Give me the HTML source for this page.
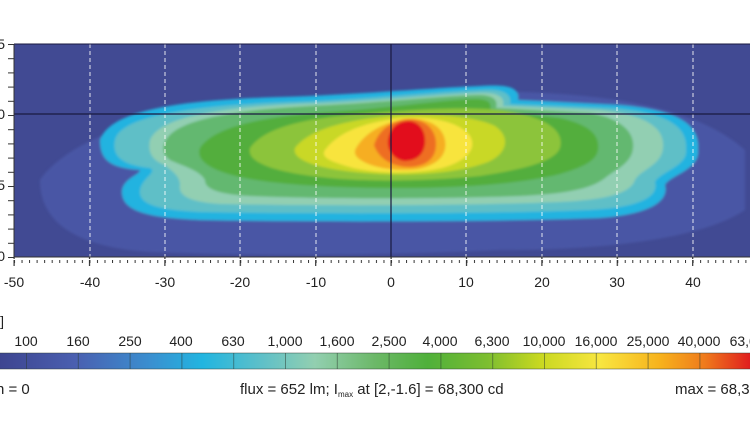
<!DOCTYPE html>
<html><head><style>
body{margin:0;background:#fff;width:750px;height:430px;overflow:hidden;font-family:"Liberation Sans",sans-serif}
</style></head><body>
<svg width="750" height="430" xmlns="http://www.w3.org/2000/svg" font-family="Liberation Sans, sans-serif">
<defs>
<filter id="b"><feGaussianBlur stdDeviation="1.2"/></filter>
<linearGradient id="cb" x1="0" x2="1">
<stop offset="0" stop-color="#3d4590"/>
<stop offset="0.1" stop-color="#4a5fb0"/>
<stop offset="0.2" stop-color="#3a8fd0"/>
<stop offset="0.27" stop-color="#22b5e0"/>
<stop offset="0.35" stop-color="#5fc0c8"/>
<stop offset="0.42" stop-color="#92cfb0"/>
<stop offset="0.5" stop-color="#6cb868"/>
<stop offset="0.57" stop-color="#4fb03a"/>
<stop offset="0.65" stop-color="#7dbe30"/>
<stop offset="0.72" stop-color="#c8d820"/>
<stop offset="0.8" stop-color="#f8e640"/>
<stop offset="0.88" stop-color="#f7b21c"/>
<stop offset="0.94" stop-color="#ef7a1c"/>
<stop offset="1" stop-color="#e01e1e"/>
</linearGradient>
<pattern id="xt" x="14" y="0" width="7.54" height="10" patternUnits="userSpaceOnUse">
<rect x="0" y="0" width="1" height="6" fill="#333"/>
</pattern>
<pattern id="xT" x="13.5" y="0" width="75.4" height="10" patternUnits="userSpaceOnUse">
<rect x="0" y="0" width="1.2" height="9" fill="#333"/>
</pattern>
<pattern id="yt" x="0" y="44" width="10" height="14.2" patternUnits="userSpaceOnUse">
<rect x="0" y="0" width="10" height="1" fill="#333"/>
</pattern>
<pattern id="cl" x="26" y="0" width="51.8" height="20" patternUnits="userSpaceOnUse">
<rect x="0" y="0" width="1" height="20" fill="#2a3a30" opacity="0.5"/>
</pattern>
<clipPath id="pc"><rect x="14" y="44" width="740" height="213"/></clipPath>
</defs>
<rect x="14" y="44" width="740" height="213" fill="#414a93"/>
<g clip-path="url(#pc)" filter="url(#b)">
<path d="M40 180 C60 150 120 120 200 110 C300 95 420 92 520 92 C620 95 700 110 745 150 L745 210 C700 240 600 250 500 250 C380 256 250 256 150 252 C90 248 40 230 40 180Z" fill="#4956a5"/>
<path d="M100 140 C110 110 180 100 280 97 C350 95 430 88 480 86 C510 84 520 88 518 100 L620 105 C680 110 700 125 698 150 C700 170 670 175 665 185 C670 205 640 215 600 218 C500 222 300 222 200 220 C150 218 120 212 122 190 C124 178 140 175 140 170 C110 168 100 160 100 140Z" fill="#22b3e0"/>
<path d="M115 140 C120 115 200 105 290 102 C360 100 430 92 480 90 C505 88 512 95 510 104 L610 108 C670 112 688 128 686 150 C688 166 660 172 655 182 C660 200 630 208 590 210 C500 214 300 214 200 212 C160 210 138 205 140 190 C142 178 158 172 150 168 C120 165 112 155 115 140Z" fill="#5fbfc7"/>
<path d="M150 140 C160 115 230 107 300 104 C370 102 430 95 478 93 C500 92 505 98 503 106 L600 110 C650 115 665 130 663 148 C662 165 640 170 635 180 C630 195 600 200 560 202 C460 206 320 206 220 204 C190 202 178 196 180 185 C180 175 170 170 165 165 C150 160 148 150 150 140Z" fill="#92cfb2"/>
<path d="M165 142 C175 118 240 110 310 106 C380 103 440 96 478 95 C495 95 498 101 496 108 L590 113 C620 118 635 132 633 148 C632 163 615 170 605 178 C590 190 560 194 520 196 C440 199 320 199 250 196 C215 194 205 188 205 180 C200 170 180 165 170 160 C163 155 162 148 165 142Z" fill="#64b870"/>
<path d="M200 148 C215 125 270 116 330 112 C390 108 440 100 475 99 C490 99 492 104 490 110 L560 118 C590 125 600 135 598 150 C596 162 580 168 560 174 C520 184 460 188 400 188 C340 188 280 185 245 178 C215 172 195 162 200 148Z" fill="#52ae3e"/>
<path d="M250 148 C265 126 310 118 360 114 C410 110 460 106 500 110 C545 116 565 130 560 148 C555 162 520 170 480 176 C440 180 390 182 340 179 C290 175 245 166 250 148Z" fill="#8cc43a"/>
<path d="M295 148 C310 128 350 120 390 116 C430 113 475 116 495 126 C512 138 506 154 488 162 C462 172 420 176 380 174 C338 172 290 164 295 148Z" fill="#c9d826"/>
<path d="M325 150 C340 130 368 122 400 118 C432 116 460 122 470 136 C478 150 464 162 442 168 C416 174 380 174 353 168 C332 162 320 158 325 150Z" fill="#f8e43e"/>
<path d="M356 148 C366 131 384 123 405 119 C426 117 442 125 445 140 C448 156 436 165 418 169 C400 171 379 169 366 163 C356 158 353 154 356 148Z" fill="#f6ae22"/>
<path d="M374 145 C379 129 392 121 408 119 C426 119 436 130 436 144 C436 159 426 166 410 167 C394 167 379 160 374 145Z" fill="#ee6e22"/>
<path d="M388 140 C390 127 398 121 410 121 C421 123 426 132 425 144 C423 157 414 161 404 161 C394 159 387 151 388 140Z" fill="#e2101c"/>
</g>
<g stroke="#fff" stroke-width="1" stroke-dasharray="4,3" opacity="0.85">
<line x1="90" y1="44" x2="90" y2="257"/><line x1="165" y1="44" x2="165" y2="257"/>
<line x1="240" y1="44" x2="240" y2="257"/><line x1="316" y1="44" x2="316" y2="257"/>
<line x1="466" y1="44" x2="466" y2="257"/><line x1="542" y1="44" x2="542" y2="257"/>
<line x1="617" y1="44" x2="617" y2="257"/><line x1="693" y1="44" x2="693" y2="257"/>
</g>
<line x1="391" y1="44" x2="391" y2="257" stroke="#1a1a40" stroke-width="1.2"/>
<line x1="14" y1="114" x2="750" y2="114" stroke="#1a1a40" stroke-width="1.2"/>
<line x1="14" y1="44" x2="750" y2="44" stroke="#1a1a40" stroke-width="1"/>
<line x1="14" y1="44" x2="14" y2="257" stroke="#333" stroke-width="1"/>
<line x1="14" y1="257" x2="750" y2="257" stroke="#333" stroke-width="1"/>
<rect x="13.5" y="257" width="740" height="6" fill="url(#xt)"/>
<rect x="13" y="257" width="740" height="9" fill="url(#xT)"/>
<rect x="8" y="43.5" width="6" height="215" fill="url(#yt)"/>
<g font-size="14" fill="#222" text-anchor="middle">
<text x="14" y="287">-50</text><text x="90" y="287">-40</text><text x="165" y="287">-30</text><text x="240" y="287">-20</text><text x="316" y="287">-10</text><text x="391" y="287">0</text><text x="466" y="287">10</text><text x="542" y="287">20</text><text x="617" y="287">30</text><text x="693" y="287">40</text>
</g>
<g font-size="14" fill="#222" text-anchor="end">
<text x="5" y="49">5</text><text x="5" y="119">0</text><text x="5" y="190">5</text><text x="5" y="261">0</text>
</g>
<text x="-3" y="326" font-size="14" fill="#222">l]</text>
<rect x="0" y="353" width="750" height="16" fill="url(#cb)"/>
<rect x="0" y="353" width="750" height="16" fill="url(#cl)"/>
<line x1="0" y1="353" x2="750" y2="353" stroke="#2a3a30" stroke-width="0.8" opacity="0.6"/>
<line x1="0" y1="369" x2="750" y2="369" stroke="#2a3a30" stroke-width="0.8" opacity="0.6"/>
<g font-size="14" fill="#222" text-anchor="middle">
<text x="26" y="346">100</text><text x="78" y="346">160</text><text x="130" y="346">250</text><text x="181" y="346">400</text><text x="233" y="346">630</text><text x="285" y="346">1,000</text><text x="337" y="346">1,600</text><text x="389" y="346">2,500</text><text x="440" y="346">4,000</text><text x="492" y="346">6,300</text><text x="544" y="346">10,000</text><text x="596" y="346">16,000</text><text x="648" y="346">25,000</text><text x="699" y="346">40,000</text><text x="751" y="346">63,000</text>
</g>
<g font-size="15" fill="#222">
<text x="-4" y="394">n = 0</text>
<text x="240" y="394">flux = 652 lm; I<tspan font-size="8" dy="3">max</tspan><tspan dy="-3"> at [2,-1.6] = 68,300 cd</tspan></text>
<text x="675" y="394">max = 68,300</text>
</g>
</svg>
</body></html>
